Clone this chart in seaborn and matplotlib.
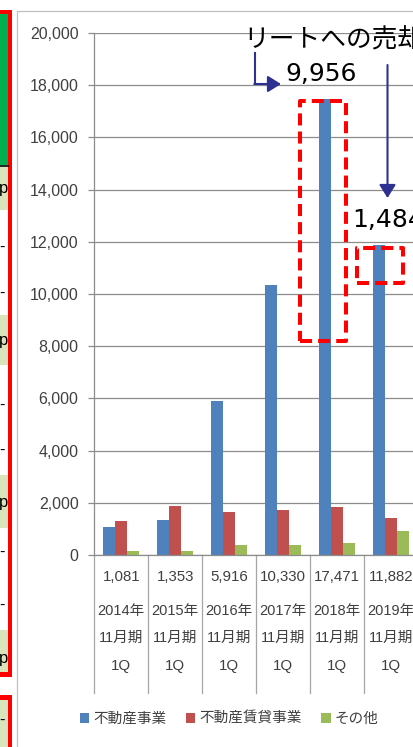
import matplotlib
matplotlib.use("Agg")
import matplotlib.pyplot as plt
import seaborn as sns
import pandas as pd
import numpy as np
from matplotlib.patches import Rectangle
from matplotlib.lines import Line2D
from matplotlib.transforms import blended_transform_factory

# ---------------- data ----------------
years = ["2014年", "2015年", "2016年", "2017年", "2018年", "2019年"]
period_label = "11月期"
quarter_label = "1Q"
series_names = ["不動産事業", "不動産賃貸事業", "その他"]
real_estate = [1081, 1353, 5916, 10330, 17471, 11882]
leasing = [1290, 1865, 1647, 1724, 1826, 1405]
other = [140, 140, 383, 383, 460, 908]
colors = ["#4F81BD", "#C0504D", "#9BBB59"]
reit_title = "リートへの売却"
reit_sale_2018 = 9956
reit_sale_2019 = 1484
yticks = list(range(0, 20001, 2000))

plt.rcParams['font.family'] = ['Liberation Sans', 'Noto Sans CJK JP', 'DejaVu Sans']

W, H = 414, 747
fig = plt.figure(figsize=(W / 100, H / 100), dpi=100)
fig.patch.set_facecolor("white")


def fx(px):
    return px / W


def fy(py):
    return 1 - py / H


def frect(x0, y0, x1, y1, **kw):
    r = Rectangle((fx(x0), fy(y1)), (x1 - x0) / W, (y1 - y0) / H,
                  transform=fig.transFigure, **kw)
    fig.add_artist(r)
    return r


# ---------------- main axes ----------------
cat_px = 53.9
ax_left = 94.3
ax = fig.add_axes([fx(ax_left), fy(555), (6 * cat_px) / W, 522 / H])

df = pd.DataFrame({
    "period": years * 3,
    "series": sum([[s] * len(years) for s in series_names], []),
    "value": real_estate + leasing + other,
})

sns.barplot(data=df, x="period", y="value", hue="series", order=years,
            hue_order=series_names, palette=colors, saturation=1,
            width=0.668, gap=0, errorbar=None, linewidth=0, ax=ax)

ax.set_xlim(-0.5, 5.5)
ax.set_ylim(0, 20000)
ax.set_yticks(yticks)
ax.set_yticklabels([f"{v:,}" for v in yticks])
ax.set_xticks([])
ax.set_xlabel("")
ax.set_ylabel("")
ax.yaxis.grid(True, color="#8C8C8C", lw=0.9)
ax.set_axisbelow(True)
for s in ["top", "right"]:
    ax.spines[s].set_visible(False)
for s in ["left", "bottom"]:
    ax.spines[s].set_color("#8C8C8C")
    ax.spines[s].set_linewidth(0.9)
ax.tick_params(axis="y", direction="out", length=4.3, width=0.9,
               color="#8C8C8C", labelsize=11.5, labelcolor="#404040", pad=7)

# legend from seaborn handles
handles, labels = ax.get_legend_handles_labels()
if ax.get_legend() is not None:
    ax.get_legend().remove()
leg = fig.legend(handles, labels, loc="center left",
                 bbox_to_anchor=(fx(80), fy(719)), bbox_transform=fig.transFigure,
                 ncol=3, frameon=False, fontsize=10.5, handlelength=0.65,
                 handleheight=0.65, handletextpad=0.3, columnspacing=1.3,
                 borderpad=0, borderaxespad=0)
for t in leg.get_texts():
    t.set_color("#404040")

# ---------------- data table below ----------------
trans = blended_transform_factory(ax.transData, ax.transAxes)


def ay(py):
    return (555 - py) / 522


for b in np.arange(-0.5, 6.0, 1.0):
    ax.plot([b, b], [0, ay(693)], transform=trans, color="#A6A6A6",
            lw=0.9, clip_on=False)

for i in range(len(years)):
    ax.text(i, ay(577), f"{real_estate[i]:,}", transform=trans, ha="center",
            va="center", fontsize=10.8, color="#404040")
    ax.text(i, ay(611), years[i], transform=trans, ha="center",
            va="center", fontsize=10.5, color="#404040")
    ax.text(i, ay(638), period_label, transform=trans, ha="center",
            va="center", fontsize=10.5, color="#404040")
    ax.text(i, ay(666), quarter_label, transform=trans, ha="center",
            va="center", fontsize=10.8, color="#404040")

# ---------------- annotations ----------------
box_style = dict(fill=False, edgecolor="#FF0000", lw=2.9,
                 linestyle=(0, (3, 1.5)), joinstyle="round", clip_on=False)
ax.add_patch(Rectangle((3.316, 8200), 4.17 - 3.316, 17400 - 8200, **box_style))
ax.add_patch(Rectangle((4.374, 10420), 5.227 - 4.374, 11750 - 10420, **box_style))

navy = "#2E3192"
fig.text(fx(243), fy(40), reit_title, fontsize=18.5,
         family=["Noto Sans CJK JP"], ha="left", va="center", color="black")
fig.text(fx(285), fy(74), f"{reit_sale_2018:,}", fontsize=18,
         family=["DejaVu Sans"], ha="left", va="center", color="black")
fig.text(fx(352), fy(220), f"{reit_sale_2019:,}", fontsize=18,
         family=["DejaVu Sans"], ha="left", va="center", color="black")

fig.add_artist(Line2D([fx(255), fx(255)], [fy(53), fy(84)],
                      transform=fig.transFigure, color=navy, lw=1.5))
arrow_kw = dict(arrowstyle="-|>,head_length=0.8,head_width=0.5",
                color=navy, lw=1.5, mutation_scale=10, shrinkA=0, shrinkB=0)
fig.add_artist(matplotlib.patches.FancyArrowPatch(
    (fx(254.3), fy(84)), (fx(281), fy(84)), transform=fig.transFigure, **arrow_kw))
fig.add_artist(matplotlib.patches.FancyArrowPatch(
    (fx(387.5), fy(65)), (fx(387.5), fy(198)), transform=fig.transFigure, **arrow_kw))

# ---------------- surrounding screenshot frame ----------------
frame_c = "#BFBFBF"
fig.add_artist(Line2D([fx(17), fx(17)], [fy(11), fy(747)],
                      transform=fig.transFigure, color=frame_c, lw=0.9))
fig.add_artist(Line2D([fx(17), fx(414)], [fy(11), fy(11)],
                      transform=fig.transFigure, color=frame_c, lw=0.9))

# left strip (neighbouring table)
frect(0, 14, 8, 165, facecolor="#00B050", edgecolor="none")
for y0, y1 in [(167, 210), (315, 365), (475, 528), (630, 672), (700, 747)]:
    frect(0, y0, 8, y1, facecolor="#D8E4BC", edgecolor="none")
fig.add_artist(Line2D([fx(0), fx(8)], [fy(165.5), fy(165.5)],
                      transform=fig.transFigure, color="black", lw=1.2))
for yc in [188, 340, 503, 658]:
    fig.text(fx(8.5), fy(yc), "p", ha="right", va="center", fontsize=12,
             color="black")
for yc in [247, 293, 405, 450, 552, 605, 720]:
    fig.text(fx(5), fy(yc), "-", ha="right", va="center", fontsize=12,
             color="black")
red = "#FF0000"
frect(8, 11, 12, 677, facecolor=red, edgecolor="none")
frect(0, 10, 12, 14, facecolor=red, edgecolor="none")
frect(0, 672, 12, 677, facecolor=red, edgecolor="none")
frect(0, 695, 12, 700, facecolor=red, edgecolor="none")
frect(8, 695, 12, 747, facecolor=red, edgecolor="none")

fig.savefig("out.png", dpi=100)
